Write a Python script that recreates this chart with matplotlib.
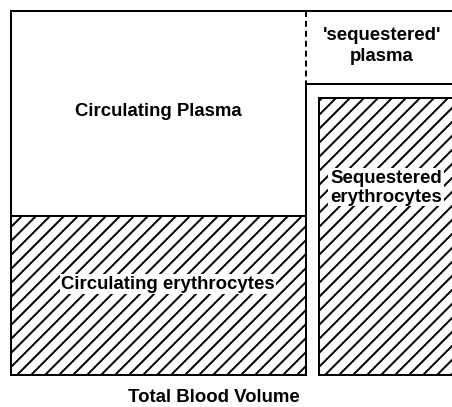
import matplotlib
matplotlib.use("Agg")
import matplotlib.pyplot as plt
from matplotlib.patches import Rectangle

plt.rcParams['font.family'] = ['Liberation Sans', 'DejaVu Sans']
plt.rcParams['hatch.linewidth'] = 1.7
plt.rcParams['hatch.color'] = 'black'

# compartments of the schematic (left, top, right, bottom) in picture units
circ_ery = (11, 217, 306, 376)
seq_ery = (319, 99, 470, 376)
whole_left = (11, 12, 306, 376)
seq_plasma_floor = 85

labels = ["Circulating Plasma", "Circulating erythrocytes",
          "'sequestered'\nplasma", "Sequestered\nerythrocytes"]
label_xy = [(158, 111), (168, 285), (382, 46), (386, 188)]
label_bg = [False, True, False, True]
label_ls = [1.0, 1.0, 1.3, 1.12]
xlabel = "Total Blood Volume"

dpi = 84
fig = plt.figure(figsize=(452 / dpi, 408 / dpi), dpi=dpi)
ax = fig.add_axes([0, 0, 1, 1])
ax.set_xlim(0, 452)
ax.set_ylim(408, 0)
ax.axis('off')

lw = 1.7

# hatched erythrocyte blocks
for l, t, r, b in [circ_ery, seq_ery]:
    ax.add_patch(Rectangle((l, t), r - l, b - t, facecolor='white',
                           edgecolor='black', hatch='//', linewidth=lw))

# outline of left column and top line
l, t, r, b = whole_left
ax.plot([l, l, r, r], [t, b, b, seq_plasma_floor], color='black', lw=lw,
        solid_capstyle='projecting')
ax.plot([l, 460], [t, t], color='black', lw=lw, solid_capstyle='projecting')
ax.plot([r, r], [t, seq_plasma_floor], color='black', lw=lw, dashes=(3, 2))
ax.plot([r, 460], [seq_plasma_floor, seq_plasma_floor], color='black', lw=lw)

for text, (x, y), bg, ls in zip(labels, label_xy, label_bg, label_ls):
    kw = {}
    if bg:
        kw['bbox'] = dict(facecolor='white', edgecolor='none', pad=1.5)
    ax.text(x, y, text, ha='center', va='center', fontsize=16,
            fontweight='bold', linespacing=ls, **kw)

ax.text(214, 398, xlabel, ha='center', va='center', fontsize=16,
        fontweight='bold')

fig.savefig('out.png', dpi=dpi)
